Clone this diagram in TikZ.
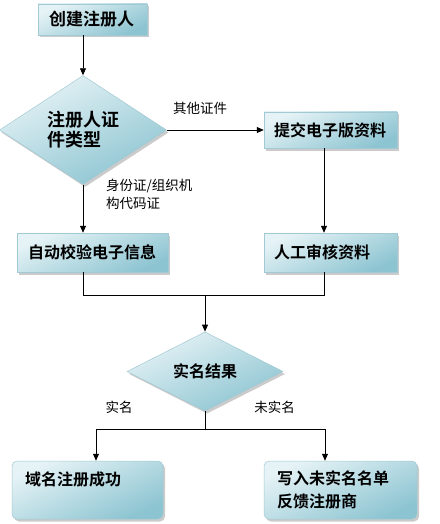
\documentclass[tikz,border=0pt]{standalone}
\usepackage{fontspec}
\newfontfamily\cjk{Noto Sans CJK SC}[BoldFont={Noto Sans CJK SC Bold}]
\usetikzlibrary{shapes.geometric,arrows.meta,shadows}
\definecolor{boxtop}{HTML}{E6F3F6}
\definecolor{boxbot}{HTML}{8CC4D1}
\definecolor{boxedge}{HTML}{A3CAD4}
\begin{document}
\begin{tikzpicture}[x=1pt,y=-1pt,
  fillbox/.style={draw=boxedge, line width=0.5pt, top color=boxtop, bottom color=boxbot, shading angle=25,
    drop shadow={shadow xshift=2pt, shadow yshift=-2.5pt, fill=black!45, opacity=0.45}},
  sqbox/.style={fillbox, font=\cjk\bfseries\fontsize{16}{23}\selectfont, align=left, inner ysep=0pt},
  rdbox/.style={sqbox, rounded corners=5pt},
  dia/.style={fillbox, diamond, inner sep=0pt, align=left},
  lbl/.style={font=\cjk\fontsize{13.5}{18}\selectfont, inner sep=0pt},
  arr/.style={line width=0.8pt, -{Triangle[length=7pt,width=6pt]}},
  ln/.style={line width=0.8pt}]
\fill[white] (0,0) rectangle (439,524);
\useasboundingbox (0,0) rectangle (439,524);

% boxes
\node[sqbox, font=\cjk\bfseries\fontsize{17}{20}\selectfont, text width=87pt, inner xsep=11pt, minimum height=31pt] (b1) at (92.5,19.5) {创建注册人};
\node[sqbox, text width=113pt, inner xsep=10pt, minimum height=36pt] (b2) at (330.5,130) {提交电子版资料};
\node[sqbox, text width=129pt, inner xsep=11pt, minimum height=39pt] (b3) at (92.5,252.5) {自动校验电子信息};
\node[sqbox, text width=113pt, inner xsep=10pt, minimum height=39pt] (b4) at (330.5,252.5) {人工审核资料};
\node[rdbox, text width=125pt, inner xsep=13pt, minimum height=58pt] (b5) at (87.5,490) {域名注册成功\\\mbox{}};
\node[rdbox, text width=127pt, inner xsep=13pt, minimum height=58pt] (b6) at (340.5,490) {写入未实名名单\\反馈注册商};

% diamonds
\node[dia, font=\cjk\bfseries\fontsize{18}{20}\selectfont, minimum width=167pt, minimum height=87pt] (d1) at (83,130) {注册人证\\件类型};
\node[dia, font=\cjk\bfseries\fontsize{16}{20}\selectfont, minimum width=156pt, minimum height=57pt] (d2) at (205,371.5) {实名结果};

% labels
\node[lbl] (l1) at (200,108) {其他证件};
\node[lbl, align=left, anchor=west] (l2) at (106,194) {身份证/组织机\\构代码证};
\node[lbl] (l3) at (119,407) {实名};
\node[lbl] (l4) at (274.5,407) {未实名};

% connection points
\coordinate (p2) at ([xshift=-6.5pt]b2.south);
\coordinate (p4n) at ([xshift=-6.5pt]b4.north);
\coordinate (p4s) at ([xshift=-6.5pt]b4.south);
\coordinate (j) at (205,295);
\coordinate (k) at (205,429);
\coordinate (p5) at ([xshift=8.5pt]b5.north);
\coordinate (p6) at ([xshift=-15.5pt]b6.north);

% connectors
\draw[arr] (d1.north |- b1.south) -- (d1.north);
\draw[arr] (d1.east) -- (b2.west);
\draw[arr] (d1.south) -- (d1.south |- b3.north);
\draw[arr] (p2) -- (p4n);
\draw[ln] (d1.south |- b3.south) -- (d1.south |- j) -- (p4s |- j) -- (p4s);
\draw[arr] (j) -- (d2.north);
\draw[ln] (d2.south) -- (k);
\draw[arr] (k) -| (p5);
\draw[arr] (k) -| (p6);
\end{tikzpicture}
\end{document}
